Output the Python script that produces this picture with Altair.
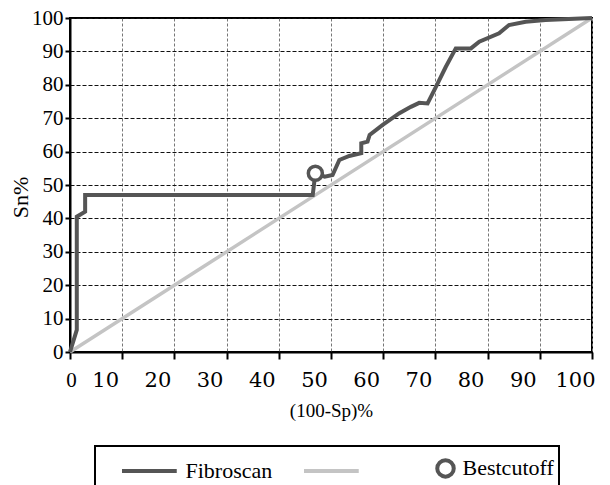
import altair as alt
import pandas as pd

# Fibroscan ROC curve
fib_x = [0, 1.3, 1.3, 2.9, 2.9, 46.5, 47.0, 48.8, 50.3, 51.6, 53.5, 55.8, 55.8, 57.0, 57.4,
         59.9, 63.1, 65.3, 66.9, 68.5, 70.1, 72.0, 73.9, 76.8, 78.4, 82.2, 84.1, 87.3, 91.1, 100]
fib_y = [0, 6.6, 40.5, 42.0, 47.0, 47.0, 53.5, 52.5, 53.0, 57.5, 58.7, 59.5, 62.5, 63.0, 65.0,
         68.0, 71.5, 73.4, 74.6, 74.4, 79.4, 85.4, 90.9, 90.9, 92.9, 95.4, 97.9, 98.9, 99.4, 100]

# reference diagonal
diag_x = [0, 100]
diag_y = [0, 100]

# best cutoff point
best_x = [47.0]
best_y = [53.5]

series_names = ["Fibroscan", " ", "Bestcutoff"]
series_colors = ["#555555", "#c4c4c4", "#555555"]
ticks = list(range(0, 101, 10))

# legend symbol shapes: a long stroke for the two lines, a ring for the best cutoff
LINE_PATH = "M-3.1,0H0.55"
RING_PATH = "M0.55,0A0.55,0.55 0 1,1 -0.55,0A0.55,0.55 0 1,1 0.55,0Z"

fib_df = pd.DataFrame({"x": fib_x, "y": fib_y, "order": list(range(len(fib_x)))})
diag_df = pd.DataFrame({"x": diag_x, "y": diag_y})
best_df = pd.DataFrame({"x": best_x, "y": best_y, "series": ["Bestcutoff"]})

x_scale = alt.Scale(domain=[0, 100], nice=False)
y_scale = alt.Scale(domain=[0, 100], nice=False)

x_axis = alt.Axis(
    values=ticks,
    title="(100-Sp)%",
    titleFont="Liberation Serif", titleFontSize=19, titleFontWeight="normal", titleColor="black",
    titleY=58, titleBaseline="middle",
    labelFont={"condition": {"test": "datum.value == 0", "value": "Liberation Serif"}, "value": "DejaVu Serif"},
    labelFontSize=21,
    labelOffset={"condition": {"test": "datum.value == 0", "value": 1}, "value": -17},
    labelColor="black", labelPadding=10, labelOverlap=False, labelFlush=False, labelBound=False,
    tickSize=7, tickWidth=2, tickColor="black",
    domainColor="black", domainWidth=2,
    grid=True, gridColor="#777777", gridDash=[3, 2], gridWidth=1,
)
y_axis = alt.Axis(
    values=ticks,
    title="Sn%",
    titleFont="Liberation Serif", titleFontSize=22, titleFontWeight="normal", titleColor="black",
    titleX=-50, titleY=179, titleBaseline="middle", titleAlign="center",
    labelFont="Liberation Serif", labelFontSize=21, labelColor="black", labelPadding=2,
    labelOverlap=False, labelFlush=False,
    tickSize=5, tickWidth=2, tickColor="black",
    domainColor="black", domainWidth=2,
    grid=True, gridColor="#111111", gridDash=[4, 2], gridWidth=1,
)

legend = alt.Legend(
    orient="none", legendX=25, legendY=428, direction="horizontal", columns=3,
    title=None, strokeColor="black", padding=5, fillColor="white",
    labelFont="Liberation Serif", labelFontSize=22, labelColor="black",
    symbolSize=900, symbolStrokeWidth=4, symbolOffset=51.5, labelOffset=0,
    columnPadding=9,
)

diag = alt.Chart(diag_df).mark_line(color="#c4c4c4", strokeWidth=3.5)

fib = alt.Chart(fib_df).mark_line(color="#555555", strokeWidth=4).encode(order="order:Q")

best = alt.Chart(best_df).mark_point(
    filled=False, fill="white", fillOpacity=1, strokeWidth=3.5, opacity=1, size=650
).encode(
    color=alt.Color("series:N", scale=alt.Scale(domain=series_names, range=series_colors), legend=legend),
    shape=alt.Shape("series:N", scale=alt.Scale(domain=series_names, range=[LINE_PATH, LINE_PATH, RING_PATH]),
                    legend=legend),
)

chart = alt.layer(diag, fib, best).encode(
    x=alt.X("x:Q", scale=x_scale, axis=x_axis),
    y=alt.Y("y:Q", scale=y_scale, axis=y_axis),
).properties(
    width=522, height=334,
    autosize=alt.AutoSizeParams(type="none"),
    padding={"left": 62, "top": 10, "right": 10, "bottom": 133},
    background="white",
).configure_view(stroke="black", strokeWidth=2).configure_legend(
    strokeWidth=2, labelFont="Liberation Serif", labelFontSize=22, labelColor="black"
)

chart.save("out.html", embed_options={"renderer": "svg", "actions": False})
